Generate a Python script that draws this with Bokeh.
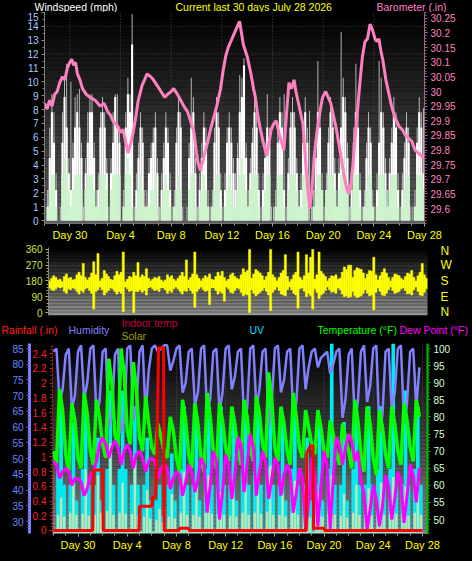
import numpy as np
from bokeh.plotting import figure
from bokeh.layouts import column, row
from bokeh.models import Range1d, LinearAxis, Label, FixedTicker, CustomJSTickFormatter
from bokeh.embed import file_html
from bokeh.resources import INLINE

FONT = "Liberation Sans"

# ---------------------------------------------------------------- axis labels
day_ticks = [2, 6, 10, 14, 18, 22, 26, 30]
day_labels = ["Day 30", "Day 4", "Day 8", "Day 12", "Day 16", "Day 20", "Day 24", "Day 28"]
compass_ticks = [0, 90, 180, 270, 360]
compass_labels = ["N", "E", "S", "W", "N"]

# ---------------------------------------------------------------- wind (mph), 6 readings per day
wind_speed = [
    [0, 1.0, 4.5, 7.8, 5.6, 2.2], [0, 0, 5.6, 8.9, 6.7, 3.4], [2.2, 4.5, 6.7, 7.8, 6.7, 4.5],
    [0, 3.4, 5.6, 7.8, 7.8, 4.5], [1.0, 2.2, 6.7, 7.8, 6.7, 3.4], [0, 3.4, 5.6, 8.9, 6.7, 5.6],
    [0, 1.0, 6.7, 9.1, 7.8, 12.7], [0, 2.2, 4.5, 6.7, 5.6, 1.0], [1.0, 3.4, 4.5, 5.6, 6.7, 3.4],
    [0, 2.2, 4.5, 6.7, 5.6, 2.2], [0, 1.0, 5.6, 7.8, 6.7, 0], [0, 0, 4.5, 6.7, 7.8, 3.4],
    [0, 2.2, 4.5, 6.7, 5.6, 1.0], [0, 1.0, 5.6, 7.8, 6.7, 2.2], [0, 2.2, 5.6, 6.7, 5.6, 3.4],
    [2.2, 4.5, 7.8, 8.9, 11.2, 4.5], [1.0, 3.4, 5.6, 7.8, 6.7, 2.2], [0, 2.2, 4.5, 6.7, 5.6, 0],
    [0, 1.0, 5.6, 7.8, 6.7, 2.2], [0, 3.4, 6.7, 7.8, 6.7, 3.4], [1.0, 2.2, 5.6, 7.8, 5.6, 0],
    [0, 1.0, 4.5, 7.8, 6.7, 2.2], [0, 2.2, 5.6, 7.8, 6.7, 3.4], [1.0, 3.4, 6.7, 8.9, 7.8, 4.5],
    [0, 2.2, 5.6, 7.8, 6.7, 2.2], [0, 1.0, 4.5, 6.7, 5.6, 1.0], [0, 2.2, 5.6, 7.8, 6.7, 3.4],
    [1.0, 3.4, 5.6, 7.8, 6.7, 2.2], [0, 2.2, 4.5, 6.7, 5.6, 0], [0, 1.0, 5.6, 7.8, 6.7, 3.4],
]
wind_avg = [
    [0, 1.0, 2.2, 3.3, 3.3, 1.0], [0, 0, 3.3, 4.5, 3.3, 2.2], [1.0, 2.2, 3.3, 3.3, 3.3, 2.2],
    [0, 2.2, 3.3, 3.3, 3.3, 2.2], [1.0, 1.0, 3.3, 3.3, 3.3, 2.2], [0, 2.2, 3.3, 3.3, 3.3, 3.3],
    [0, 1.0, 3.3, 4.5, 3.3, 1.0], [0, 1.0, 2.2, 3.3, 2.2, 1.0], [1.0, 1.0, 2.2, 2.2, 3.3, 1.0],
    [0, 1.0, 2.2, 3.3, 2.2, 1.0], [0, 1.0, 2.2, 3.3, 2.2, 0], [0, 0, 2.2, 3.3, 3.3, 1.0],
    [0, 1.0, 2.2, 3.3, 2.2, 1.0], [0, 1.0, 2.2, 3.3, 3.3, 1.0], [0, 1.0, 2.2, 3.3, 2.2, 1.0],
    [1.0, 2.2, 3.3, 4.5, 3.3, 2.2], [1.0, 2.2, 3.3, 3.3, 3.3, 1.0], [0, 1.0, 2.2, 3.3, 3.3, 0],
    [0, 1.0, 3.3, 3.3, 3.3, 1.0], [0, 2.2, 3.3, 3.3, 3.3, 2.2], [1.0, 1.0, 3.3, 3.3, 3.3, 0],
    [0, 1.0, 2.2, 3.3, 3.3, 2.2], [0, 2.2, 3.3, 3.3, 3.3, 2.2], [1.0, 2.2, 3.3, 4.5, 3.3, 2.2],
    [0, 1.0, 3.3, 3.3, 3.3, 1.0], [0, 1.0, 2.2, 3.3, 3.3, 1.0], [0, 1.0, 3.3, 3.3, 3.3, 2.2],
    [1.0, 2.2, 3.3, 3.3, 3.3, 1.0], [0, 1.0, 2.2, 3.3, 3.3, 0], [0, 1.0, 3.3, 3.3, 3.3, 2.2],
]
wind_gust = [
    [0, 2.2, 6.7, 9.1, 7.8, 3.4], [0, 1.0, 7.8, 10.3, 11.3, 4.5], [10.0, 5.6, 8.9, 9.1, 9.5, 5.6],
    [1.0, 4.5, 7.8, 9.1, 9.1, 5.6], [2.2, 3.4, 7.8, 8.9, 7.8, 4.5], [1.0, 4.5, 7.8, 9.1, 9.1, 6.7],
    [0, 2.2, 7.8, 10.3, 9.1, 14.9], [1.0, 3.4, 5.6, 7.8, 6.7, 2.2], [2.2, 4.5, 5.6, 6.7, 7.8, 4.5],
    [1.0, 3.4, 5.6, 7.8, 6.7, 3.4], [1.0, 2.2, 6.7, 9.1, 7.8, 1.0], [0, 1.0, 5.6, 10.3, 8.9, 4.5],
    [1.0, 3.4, 5.6, 7.8, 6.7, 2.2], [1.0, 2.2, 6.7, 8.9, 7.8, 3.4], [1.0, 3.4, 6.7, 7.8, 6.7, 4.5],
    [3.4, 5.6, 10.5, 10.3, 11.7, 5.6], [2.2, 4.5, 6.7, 8.9, 7.8, 3.4], [1.0, 3.4, 5.6, 9.1, 6.7, 1.0],
    [1.0, 2.2, 6.7, 8.9, 7.8, 9.1], [1.0, 4.5, 7.8, 8.9, 7.8, 4.5], [2.2, 3.4, 6.7, 8.9, 6.7, 7.9],
    [1.0, 2.2, 5.6, 11.5, 7.8, 3.4], [1.0, 3.4, 6.7, 8.9, 7.8, 4.5], [2.2, 4.5, 13.6, 10.3, 8.9, 5.6],
    [1.0, 3.4, 6.7, 11.3, 7.8, 3.4], [1.0, 2.2, 5.6, 7.8, 6.7, 2.2], [1.0, 3.4, 11.5, 10.3, 7.8, 4.5],
    [2.2, 4.5, 6.7, 8.9, 7.8, 3.4], [1.0, 3.4, 5.6, 7.8, 6.7, 1.0], [1.0, 2.2, 6.7, 8.9, 7.8, 8.1],
]

# ---------------------------------------------------------------- barometer (inHg)
baro_day = [0.0, 0.2, 0.4, 0.6, 0.8, 1.0, 1.2, 1.4, 1.6, 1.8, 2.0, 2.15, 2.3, 2.45, 2.6, 2.8, 3.0,
            3.3, 3.6, 4.0, 4.4, 4.7, 5.0, 5.2, 5.4, 5.6, 5.8, 6.0, 6.2, 6.4, 6.6, 6.8, 7.0, 7.2,
            7.4, 7.7, 8.1, 8.4, 8.6, 8.9, 9.2, 9.5, 9.7, 10.0, 10.2, 10.5, 10.75, 11.0, 11.3,
            11.6, 11.8, 12.0, 12.1, 12.3, 12.6, 12.9, 13.1, 13.35, 13.6, 13.9, 14.1, 14.3, 14.5,
            14.7, 14.9, 15.2, 15.4, 15.55, 15.7, 15.85, 16.0, 16.15, 16.3, 16.5, 16.65, 16.8,
            17.0, 17.1, 17.3, 17.55, 17.7, 17.9, 18.1, 18.3, 18.5, 18.7, 18.9, 19.1, 19.3, 19.5,
            19.7, 19.85, 20.0, 20.2, 20.4, 20.55, 20.65, 20.8, 20.95, 21.1, 21.3, 21.5, 21.7,
            21.95, 22.2, 22.4, 22.6, 22.8, 23.0, 23.25, 23.5, 23.7, 23.9, 24.05, 24.2, 24.35,
            24.5, 24.7, 24.9, 25.1, 25.3, 25.5, 25.7, 25.9, 26.1, 26.25, 26.4, 26.55, 26.7,
            26.95, 27.2, 27.4, 27.6, 27.8, 28.0, 28.25, 28.5, 28.75, 29.0, 29.25, 29.5, 29.75, 30.0]
baro_inhg = [29.96, 29.94, 29.97, 29.95, 29.99, 30.00, 30.03, 30.05, 30.04, 30.08, 30.10, 30.11,
             30.09, 30.10, 30.06, 30.04, 30.01, 29.99, 29.98, 29.97, 29.95, 29.96, 29.93, 29.92,
             29.90, 29.89, 29.88, 29.86, 29.87, 29.83, 29.79, 29.82, 29.86, 29.91, 29.97, 30.02,
             30.06, 30.05, 30.04, 30.02, 30.00, 29.98, 29.99, 30.00, 30.01, 29.99, 29.97, 29.95,
             29.93, 29.89, 29.86, 29.79, 29.76, 29.73, 29.78, 29.83, 29.87, 29.91, 29.95, 30.01,
             30.07, 30.12, 30.15, 30.17, 30.19, 30.22, 30.24, 30.20, 30.16, 30.14, 30.12, 30.09,
             30.06, 30.01, 29.98, 29.93, 29.88, 29.86, 29.82, 29.78, 29.82, 29.87, 29.89, 29.90,
             29.86, 29.83, 29.80, 29.92, 30.03, 30.01, 30.04, 30.00, 29.97, 29.93, 29.89, 29.80,
             29.74, 29.66, 29.60, 29.66, 29.78, 29.86, 29.92, 29.98, 30.00, 29.98, 29.96, 29.92,
             29.88, 29.82, 29.75, 29.70, 29.66, 29.65, 29.69, 29.75, 29.83, 29.93, 30.03, 30.12,
             30.17, 30.18, 30.23, 30.21, 30.18, 30.17, 30.18, 30.14, 30.11, 30.04, 29.99, 29.95,
             29.92, 29.90, 29.88, 29.87, 29.85, 29.84, 29.83, 29.80, 29.79, 29.78, 29.77]

# ---------------------------------------------------------------- wind direction (deg), 6 per day
dir_hi = [
    [180, 195, 210, 200, 185, 190], [175, 205, 220, 195, 200, 185], [190, 215, 230, 210, 280, 200],
    [185, 200, 225, 290, 215, 337], [180, 195, 240, 220, 205, 190], [185, 210, 235, 215, 230, 345],
    [175, 190, 205, 200, 230, 210], [285, 200, 215, 205, 250, 195], [180, 190, 200, 195, 205, 185],
    [175, 185, 215, 200, 210, 190], [180, 195, 210, 230, 205, 300], [185, 200, 220, 345, 215, 195],
    [180, 195, 210, 200, 220, 190], [185, 205, 230, 210, 235, 200], [180, 190, 215, 225, 205, 195],
    [190, 215, 250, 230, 240, 360], [195, 220, 245, 235, 225, 210], [185, 205, 230, 360, 215, 200],
    [180, 200, 225, 240, 330, 205], [175, 190, 215, 230, 345, 200], [185, 210, 330, 225, 315, 360],
    [190, 215, 345, 235, 220, 205], [180, 195, 210, 205, 215, 190], [195, 230, 260, 245, 270, 270],
    [200, 240, 255, 250, 245, 225], [195, 220, 240, 235, 315, 215], [185, 210, 230, 250, 225, 200],
    [180, 200, 220, 215, 210, 195], [185, 205, 225, 220, 240, 200], [180, 210, 230, 280, 215, 195],
]
dir_lo = [
    [140, 130, 125, 135, 145, 140], [145, 120, 110, 135, 130, 140], [135, 120, 105, 125, 115, 135],
    [140, 125, 110, 20, 120, 130], [145, 130, 100, 115, 125, 140], [135, 120, 105, 120, 110, 5],
    [145, 135, 120, 125, 0, 120], [120, 130, 115, 125, 100, 140], [145, 135, 125, 130, 120, 140],
    [140, 130, 110, 125, 115, 135], [145, 135, 120, 105, 125, 120], [140, 125, 110, 30, 120, 135],
    [145, 130, 120, 125, 45, 140], [140, 125, 105, 120, 110, 65], [145, 135, 115, 110, 125, 140],
    [135, 115, 95, 105, 100, 0], [130, 110, 95, 105, 115, 125], [140, 120, 100, 10, 115, 130],
    [145, 125, 105, 100, 95, 130], [145, 130, 110, 100, 25, 135], [140, 120, 90, 110, 95, 20],
    [135, 115, 80, 100, 110, 125], [145, 130, 115, 120, 110, 140], [130, 105, 90, 95, 85, 90],
    [120, 95, 85, 90, 95, 110], [130, 110, 95, 100, 15, 115], [140, 120, 100, 95, 110, 130],
    [145, 125, 110, 115, 120, 135], [140, 125, 105, 110, 100, 130], [145, 120, 100, 95, 115, 135],
]

# ---------------------------------------------------------------- 4 readings per day (00, 06, 12, 18 h)
humidity = [
    [84, 85, 68, 72], [83, 85, 66, 70], [84, 86, 69, 74], [85, 86, 64, 68], [84, 85, 60, 63],
    [83, 85, 58, 62], [85, 86, 62, 67], [84, 86, 64, 78], [85, 86, 84, 85], [86, 86, 78, 81],
    [85, 86, 71, 74], [84, 85, 67, 71], [85, 86, 64, 69], [84, 85, 65, 71], [85, 86, 72, 76],
    [84, 85, 62, 66], [85, 86, 66, 72], [84, 85, 60, 68], [85, 86, 71, 75], [84, 85, 64, 68],
    [85, 86, 72, 79], [84, 85, 79, 82], [83, 84, 77, 80], [84, 85, 63, 69], [83, 85, 62, 68],
    [84, 86, 68, 73], [85, 86, 58, 64], [84, 85, 66, 71], [85, 86, 61, 68], [84, 85, 66, 79],
]
temperature = [
    [70, 66, 88, 82], [69, 64, 84, 79], [68, 65, 87, 81], [70, 66, 85, 80], [72, 68, 97, 90],
    [75, 71, 100, 93], [76, 72, 96, 88], [74, 70, 86, 78], [71, 69, 78, 74], [70, 68, 80, 76],
    [68, 64, 85, 79], [69, 65, 84, 78], [68, 64, 87, 80], [70, 65, 84, 79], [71, 67, 83, 78],
    [70, 66, 85, 80], [71, 67, 86, 81], [72, 68, 93, 85], [71, 67, 83, 78], [70, 66, 87, 80],
    [71, 68, 82, 77], [72, 69, 82, 77], [70, 68, 79, 75], [69, 66, 78, 74], [70, 65, 85, 79],
    [69, 64, 83, 78], [68, 63, 82, 77], [69, 65, 83, 78], [70, 66, 84, 79], [71, 67, 85, 80],
]
dew_point = [
    [67, 66, 62, 64], [65, 64, 60, 62], [62, 61, 57, 59], [63, 64, 67, 72], [74, 72, 68, 71],
    [73, 71, 66, 70], [72, 70, 65, 69], [70, 68, 64, 67], [68, 67, 62, 65], [66, 65, 59, 62],
    [64, 63, 57, 61], [66, 64, 58, 62], [68, 66, 52, 60], [70, 67, 50, 58], [69, 66, 56, 63],
    [74, 72, 58, 66], [75, 71, 57, 64], [70, 67, 56, 62], [68, 66, 57, 63], [66, 64, 52, 58],
    [65, 62, 47, 55], [68, 63, 48, 60], [70, 66, 47, 62], [74, 72, 66, 71], [75, 73, 67, 70],
    [61, 58, 47, 53], [60, 56, 48, 54], [63, 60, 50, 56], [64, 61, 49, 57], [66, 63, 55, 65],
]
uv_index = [
    [0, 4, 8, 3], [0, 3, 7, 2], [0, 4, 8, 3], [0, 3, 6, 2], [0, 4, 9, 3], [0, 4, 9, 4],
    [0, 3, 8, 3], [0, 3, 6, 2], [0, 2, 3, 1], [0, 3, 5, 2], [0, 4, 8, 3], [0, 3, 7, 2],
    [0, 4, 8, 3], [0, 3, 8, 3], [0, 3, 7, 2], [0, 4, 8, 3], [0, 4, 8, 3], [0, 4, 9, 3],
    [0, 3, 7, 2], [0, 4, 8, 3], [0, 3, 6, 2], [0, 3, 7, 2], [0, 4, 12, 3], [0, 3, 7, 2],
    [0, 4, 8, 3], [0, 3, 8, 3], [0, 4, 8, 3], [0, 4, 12, 3], [0, 3, 9, 3], [0, 4, 8, 3],
]
solar = [
    [0, 90, 180, 80], [0, 100, 260, 90], [0, 95, 330, 85], [0, 90, 300, 100], [0, 110, 470, 90],
    [0, 100, 260, 95], [0, 95, 380, 85], [0, 80, 220, 70], [0, 60, 120, 50], [0, 80, 200, 70],
    [0, 100, 320, 90], [0, 90, 240, 80], [0, 100, 300, 95], [0, 95, 210, 90], [0, 85, 180, 80],
    [0, 100, 260, 90], [0, 100, 280, 95], [0, 105, 350, 90], [0, 90, 200, 80], [0, 100, 270, 90],
    [0, 85, 190, 75], [0, 90, 210, 80], [0, 100, 300, 90], [0, 85, 200, 75], [0, 100, 250, 90],
    [0, 95, 230, 85], [0, 100, 260, 90], [0, 100, 290, 95], [0, 95, 240, 85], [0, 100, 250, 90],
]
rain_day = [0, 3.2, 3.25, 4.0, 4.05, 6.95, 7.0, 8.0, 8.05, 8.3, 8.4, 8.55, 8.95, 9.0, 10.2, 10.25,
            11.0, 11.05, 20.55, 20.6, 20.9, 21.1, 21.15, 22.0, 22.05, 30.0]
rain_in = [0, 0, 0.82, 0.82, 0, 0, 0.33, 0.33, 0.45, 0.45, 0.9, 2.48, 2.48, 0, 0, 0.03,
           0.03, 0, 0, 1.05, 1.15, 1.15, 0.03, 0.03, 0, 0]


def flat(rows):
    return [v for row_ in rows for v in row_]


def slot_centres(rows, per_day):
    return [d + (k + 0.5) / per_day for d in range(len(rows)) for k in range(per_day)]


def slot_starts(rows, per_day):
    return [d + k / per_day for d in range(len(rows)) for k in range(per_day)]


def shade(p, x0, x1, y0, y1, top_rgb, bot_rgb, n=48, **kw):
    """Vertical colour ramp behind the data."""
    edges = np.linspace(y0, y1, n + 1)
    cols = []
    for f in np.linspace(0, 1, n):
        c = [int(round(b + (t - b) * f)) for t, b in zip(top_rgb, bot_rgb)]
        cols.append("#%02x%02x%02x" % tuple(c))
    p.quad(left=x0, right=x1, bottom=edges[:-1], top=edges[1:], fill_color=cols,
           line_color=None, **kw)


def style_base(p):
    p.background_fill_color = "black"
    p.border_fill_color = "black"
    p.outline_line_color = None
    p.xgrid.grid_line_color = None
    p.ygrid.grid_line_color = None


def style_axis(ax, color, size="10px"):
    ax.major_label_text_color = color
    ax.major_label_text_font = FONT
    ax.major_label_text_font_size = size
    ax.major_label_standoff = 3
    ax.major_tick_in = 0
    ax.major_tick_out = 3
    ax.minor_tick_in = 0
    ax.minor_tick_out = 2


def day_axis(ax):
    ax.ticker = FixedTicker(ticks=day_ticks, minor_ticks=list(range(0, 31)))
    ax.major_label_overrides = dict(zip(day_ticks, day_labels))
    style_axis(ax, "#ffff00", "11px")
    ax.axis_line_color = "#707070"
    ax.major_tick_line_color = "#a0a0a0"
    ax.minor_tick_line_color = "#a0a0a0"
    ax.major_label_standoff = 2


def strip(height):
    """Thin black band that carries the panel captions (pixel coordinates)."""
    s = figure(width=472, height=height, x_range=Range1d(0, 472), y_range=Range1d(0, height),
               output_backend="svg", toolbar_location=None, x_axis_location=None,
               y_axis_location=None, min_border=0)
    style_base(s)
    return s


def caption(s, x, y, text, color):
    s.add_layout(Label(x=x, y=y, text=text, text_color=color, text_font=FONT,
                       text_font_size="10.5px", text_baseline="middle", text_align="left"))


# ================================================================ captions above the wind panel
s1 = strip(12)
caption(s1, 34, 6, "Windspeed (mph)", "#ffffff")
caption(s1, 175, 6, "Current last 30 days July 28 2026", "#ffff00")
caption(s1, 376, 6, "Barometer (.in)", "#ff80c0")

# ================================================================ wind speed / barometer
p1 = figure(width=472, height=231, x_range=Range1d(0, 30), y_range=Range1d(-0.216, 15.0),
            output_backend="svg", toolbar_location=None,
            min_border_left=44, min_border_right=48, min_border_top=0, min_border_bottom=20)
style_base(p1)
p1.extra_y_ranges = {"baro": Range1d(29.549, 30.270)}
shade(p1, -1, 31, -0.216, 15.0, (0, 0, 0), (92, 92, 92))
for gx in day_ticks:
    p1.line([gx, gx], [-0.216, 15.0], line_color="#4a4a4a", line_dash="1 2", line_width=1)
for gy in range(2, 16, 2):
    p1.line([0, 30], [gy, gy], line_color="#3c3c3c", line_dash="1 2", line_width=1)

x6 = slot_centres(wind_speed, 6)
p1.vbar(x=x6, top=flat(wind_gust), bottom=0, width=0.07, fill_color="#c8c8c8", line_color=None)
p1.vbar(x=x6, top=flat(wind_speed), bottom=0, width=1 / 6, fill_color="#ffffff", line_color=None)
p1.vbar(x=x6, top=flat(wind_avg), bottom=0, width=1 / 6, fill_color="#ccf5cc", line_color=None)
p1.line(baro_day, baro_inhg, y_range_name="baro", line_color="#ff80c0", line_width=3)

p1.yaxis.ticker = FixedTicker(ticks=list(range(0, 16)), minor_ticks=[i / 2 for i in range(0, 31)])
style_axis(p1.yaxis[0], "#a8c8ff")
p1.yaxis.axis_line_color = "#808080"
p1.yaxis.major_tick_line_color = "#a0a0a0"
p1.yaxis.minor_tick_line_color = "#808080"

baro_axis = LinearAxis(y_range_name="baro",
                       ticker=FixedTicker(ticks=[round(29.6 + 0.05 * i, 2) for i in range(14)],
                                          minor_ticks=[round(29.55 + 0.01 * i, 2) for i in range(73)]),
                       formatter=CustomJSTickFormatter(code="return String(Math.round(tick*100)/100)"))
style_axis(baro_axis, "#ff80c0")
baro_axis.axis_line_color = "#a06080"
baro_axis.major_tick_line_color = "#c07098"
baro_axis.minor_tick_line_color = "#a06080"
p1.add_layout(baro_axis, "right")
day_axis(p1.xaxis[0])

# ================================================================ wind direction
p2 = figure(width=472, height=75, x_range=Range1d(0, 30), y_range=Range1d(-17, 371),
            output_backend="svg", toolbar_location=None, x_axis_location=None,
            min_border_left=48, min_border_right=45, min_border_top=4, min_border_bottom=3)
style_base(p2)
shade(p2, -1, 31, -17, 371, (0, 0, 0), (150, 150, 150))
for gy in [90, 180, 270]:
    p2.line([0, 30], [gy, gy], line_color="#505050", line_dash="1 2", line_width=1)
p2.vbar(x=x6, top=flat(dir_hi), bottom=flat(dir_lo), width=1 / 6,
        fill_color="#ffff00", line_color="#ffff00", line_width=0.5)

p2.yaxis.ticker = FixedTicker(ticks=compass_ticks, minor_ticks=list(range(0, 361, 18)))
style_axis(p2.yaxis[0], "#d0e040")
p2.yaxis.axis_line_color = "#808080"
p2.yaxis.major_tick_line_color = "#d0e040"
p2.yaxis.minor_tick_line_color = "#a0b030"
compass = LinearAxis(ticker=FixedTicker(ticks=compass_ticks),
                     major_label_overrides=dict(zip(compass_ticks, compass_labels)))
style_axis(compass, "#ffff00", "12px")
compass.axis_line_color = None
compass.major_tick_line_color = None
compass.minor_tick_line_color = None
compass.major_label_standoff = 10
p2.add_layout(compass, "right")

# ================================================================ captions above the lower panel
s2 = strip(25)
caption(s2, 1, 14, "Rainfall (.in)", "#ff2020")
caption(s2, 68, 14, "Humidity", "#8080ff")
caption(s2, 121, 21, "Indoor temp", "#c00040")
caption(s2, 121, 8, "Solar", "#a0a000")
caption(s2, 249, 14, "UV", "#00e0ff")
caption(s2, 317, 14, "Temperature (°F)", "#00ff00")
caption(s2, 399, 14, "Dew Point (°F)", "#ff00ff")

# ================================================================ rain / humidity / temperature
p3 = figure(width=472, height=218, x_range=Range1d(-0.073, 30.41), y_range=Range1d(-0.0407, 2.536),
            output_backend="svg", toolbar_location=None,
            min_border_left=52, min_border_right=45, min_border_top=0, min_border_bottom=28)
style_base(p3)
p3.extra_y_ranges = {"hum": Range1d(26.19, 86.59), "temp": Range1d(45.91, 101.46),
                     "uv": Range1d(-0.1, 12.0), "sun": Range1d(-10, 1000)}
shade(p3, -1, 31, -0.0407, 2.536, (0, 0, 0), (128, 128, 128))
for gx in day_ticks:
    p3.line([gx, gx], [-0.0407, 2.536], line_color="#505050", line_dash="1 2", line_width=1)

x4c = slot_centres(humidity, 4)
x4 = slot_starts(humidity, 4)
p3.vbar(x=x4c, top=flat(uv_index), bottom=-0.1, width=0.3, y_range_name="uv",
        fill_color="#00e8f0", line_color=None)
p3.vbar(x=x4c, top=flat(solar), bottom=-10, width=0.2, y_range_name="sun",
        fill_color="#ffe4a0", fill_alpha=0.75, line_color=None)
p3.line(x4, flat(humidity), y_range_name="hum", line_color="#8080ff", line_width=2.5)
p3.line(x4, flat(temperature), y_range_name="temp", line_color="#00ff00", line_width=3.5)
p3.line(x4, flat(dew_point), y_range_name="temp", line_color="#ff00ff", line_width=3)
p3.line(rain_day, rain_in, line_color="#ff0000", line_width=3)

rain_ax = p3.yaxis[0]
rain_ax.ticker = FixedTicker(ticks=[round(0.2 * i, 1) for i in range(13)],
                             minor_ticks=[round(0.05 * i, 2) for i in range(51)])
rain_ax.formatter = CustomJSTickFormatter(code="return String(Math.round(tick*10)/10)")
style_axis(rain_ax, "#ff2020")
rain_ax.axis_line_color = "#c02020"
rain_ax.axis_line_dash = "1 1"
rain_ax.major_tick_line_color = "#ff2020"
rain_ax.minor_tick_line_color = "#c02020"

hum_ax = LinearAxis(y_range_name="hum", ticker=FixedTicker(ticks=list(range(30, 90, 5)),
                                                           minor_ticks=list(range(27, 87))))
style_axis(hum_ax, "#6888ff")
hum_ax.axis_line_color = "#8080ff"
hum_ax.axis_line_width = 3
hum_ax.major_tick_line_color = "#8080ff"
hum_ax.minor_tick_line_color = "#6060d0"
p3.add_layout(hum_ax, "left")

temp_ax = LinearAxis(y_range_name="temp", ticker=FixedTicker(ticks=list(range(50, 105, 5)),
                                                             minor_ticks=list(range(46, 102))))
style_axis(temp_ax, "#d8ffd8")
temp_ax.axis_line_color = "#00c000"
temp_ax.axis_line_width = 2
temp_ax.major_tick_line_color = "#00e000"
temp_ax.minor_tick_line_color = "#00a000"
p3.add_layout(temp_ax, "right")
day_axis(p3.xaxis[0])

# each panel sits in its own row so the stacked frames keep their own margins
layout = column(row(s1), row(p1), row(p2), row(s2), row(p3), spacing=0)
layout.styles = {"background-color": "#000000"}
open("out.html", "w").write(file_html(layout, INLINE))
